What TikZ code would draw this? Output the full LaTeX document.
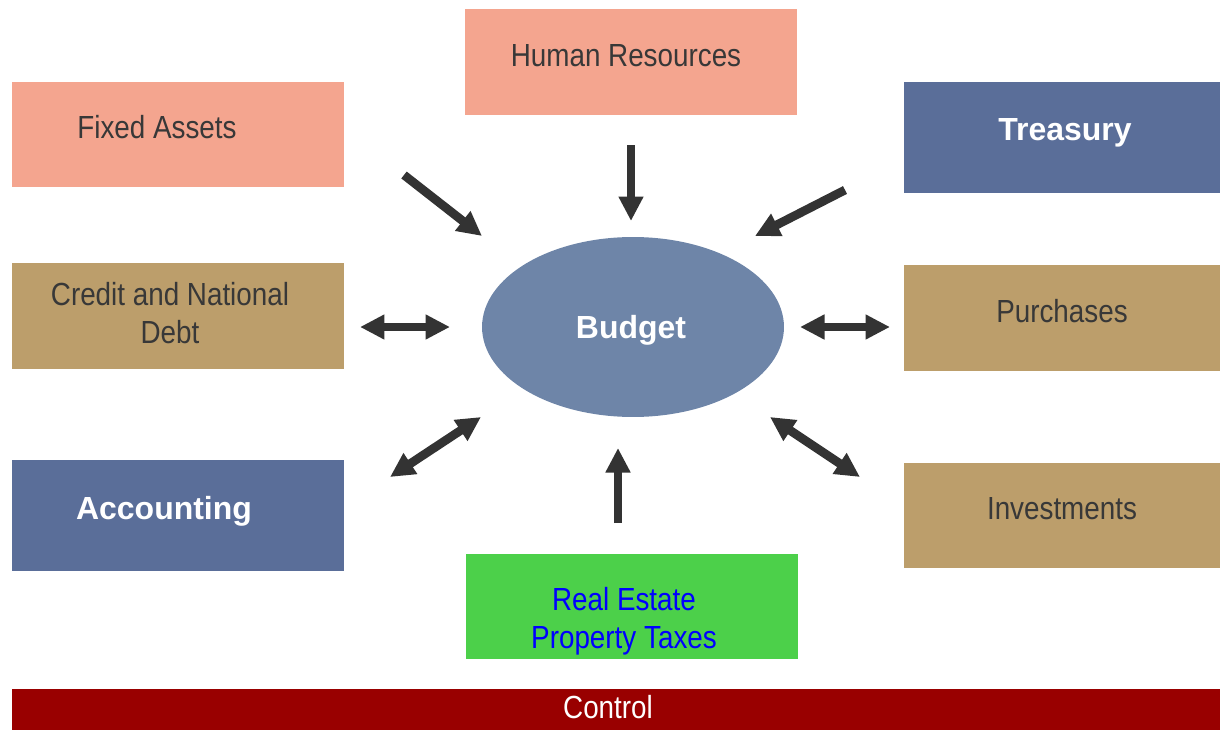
\documentclass[tikz,border=0pt]{standalone}
\usepackage{fontspec}
\usetikzlibrary{shapes.geometric,arrows.meta}
\newfontfamily\narrowfont[FakeStretch=0.87]{Liberation Sans}
\newfontfamily\arialfont{Liberation Sans}
\definecolor{salmon}{HTML}{F4A58F}
\definecolor{azulcaja}{HTML}{5A6E99}
\definecolor{cafe}{HTML}{BC9E6B}
\definecolor{verde}{HTML}{4CD04A}
\definecolor{rojo}{HTML}{990000}
\definecolor{azulelipse}{HTML}{6E85A8}
\definecolor{flecha}{HTML}{333333}
\definecolor{texto}{HTML}{383838}
\begin{document}
\begin{tikzpicture}[x=0.02cm, y=-0.02cm,
    caja/.style={rectangle, inner sep=0pt, minimum width=6.64cm, minimum height=2.12cm},
    etiqueta/.style={anchor=base, inner sep=0pt, text=texto, align=center,
      font=\narrowfont\fontsize{18.2}{21.6}\selectfont},
    negrita/.style={anchor=base, inner sep=0pt, text=white,
      font=\arialfont\bfseries\fontsize{18.2}{21.6}\selectfont},
    flechauna/.style={-{Triangle[length=0.49cm,width=0.47cm]}, line width=0.175cm, draw=flecha},
    flechados/.style={{Triangle[length=0.49cm,width=0.47cm]}-{Triangle[length=0.49cm,width=0.47cm]},
      line width=0.175cm, draw=flecha}]
    % Define el marco
    \useasboundingbox (0,0) rectangle (1221,730);

    % Dibuja la elipse central
    \node[ellipse, fill=azulelipse, inner sep=0pt, minimum width=6.04cm, minimum height=3.6cm] (pres) at (633,327) {};
    \node[negrita] (pres-t) at (631,338.5) {Budget};

    % Dibuja las cajas de arriba
    \node[caja, fill=salmon] (rh) at (631,62) {};
    \node[etiqueta] (rh-t) at (626,66.5) {Human Resources};
    \node[caja, fill=salmon, minimum height=2.1cm] (af) at (178,134.5) {};
    \node[etiqueta] (af-t) at (157,138.5) {Fixed Assets};
    \node[caja, fill=azulcaja, minimum width=6.32cm, minimum height=2.22cm] (te) at (1062,137.5) {};
    \node[negrita] (te-t) at (1065,140.5) {Treasury};

    % Dibuja las cajas del medio
    \node[caja, fill=cafe] (cn) at (178,316) {};
    \node[etiqueta] (cn-t) at (170,343.5) {Credit and National\\Debt};
    \node[caja, fill=cafe, minimum width=6.32cm] (co) at (1062,318) {};
    \node[etiqueta] (co-t) at (1062,322.5) {Purchases};

    % Dibuja las cajas de abajo
    \node[caja, fill=azulcaja, minimum height=2.22cm] (cb) at (178,515.5) {};
    \node[negrita] (cb-t) at (164,519.5) {Accounting};
    \node[caja, fill=cafe, minimum width=6.32cm, minimum height=2.1cm] (in) at (1062,515.5) {};
    \node[etiqueta] (in-t) at (1062,519.5) {Investments};
    \node[caja, fill=verde, minimum height=2.1cm] (im) at (632,606.5) {};
    \node[etiqueta, text=blue] (im-t) at (624,648.5) {Real Estate\\Property Taxes};

    % Dibuja la barra de control
    \node[caja, fill=rojo, minimum width=24.16cm, minimum height=0.82cm] (ctl) at (616,709.5) {};
    \node[etiqueta, text=white] (ctl-t) at (608,718.5) {Control};

    % Define los extremos de las flechas
    \coordinate (af-a) at (404,175);  \coordinate (af-b) at (482,236);
    \coordinate (rh-a) at (631,145);  \coordinate (rh-b) at (631,221);
    \coordinate (te-a) at (845,190);  \coordinate (te-b) at (755,236);
    \coordinate (cn-a) at (360,327);  \coordinate (cn-b) at (450,327);
    \coordinate (co-a) at (800,327);  \coordinate (co-b) at (890,327);
    \coordinate (cb-a) at (390,477);  \coordinate (cb-b) at (481,417);
    \coordinate (in-a) at (770,417);  \coordinate (in-b) at (860,477);
    \coordinate (im-a) at (618,523);  \coordinate (im-b) at (618,448);

    % Dibuja las flechas
    \draw[flechauna] (af-a) -- (af-b);
    \draw[flechauna] (rh-a) -- (rh-b);
    \draw[flechauna] (te-a) -- (te-b);
    \draw[flechados] (cn-a) -- (cn-b);
    \draw[flechados] (co-a) -- (co-b);
    \draw[flechados] (cb-a) -- (cb-b);
    \draw[flechados] (in-a) -- (in-b);
    \draw[flechauna] (im-a) -- (im-b);
\end{tikzpicture}
\end{document}
